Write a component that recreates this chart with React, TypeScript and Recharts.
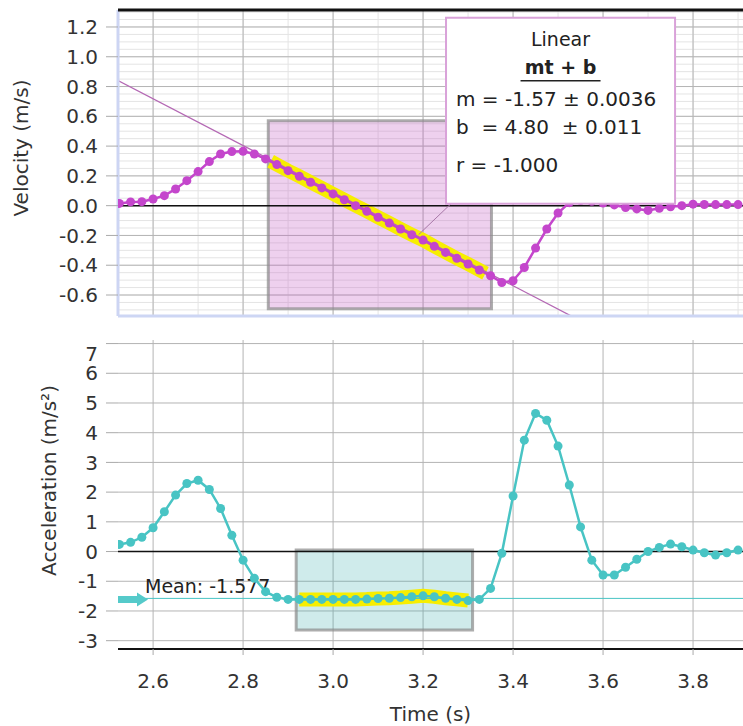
import React from 'react';
import { ComposedChart, Line, XAxis, YAxis, CartesianGrid, ReferenceLine, ReferenceArea } from 'recharts';

const time = [
  2.525, 2.55, 2.575, 2.6, 2.625, 2.65, 2.675, 2.7, 2.725, 2.75, 2.775, 2.8, 2.825, 2.85,
  2.875, 2.9, 2.925, 2.95, 2.975, 3.0, 3.025, 3.05, 3.075, 3.1, 3.125, 3.15, 3.175, 3.2,
  3.225, 3.25, 3.275, 3.3, 3.325, 3.35, 3.375, 3.4, 3.425, 3.45, 3.475, 3.5, 3.525, 3.55,
  3.575, 3.6, 3.625, 3.65, 3.675, 3.7, 3.725, 3.75, 3.775, 3.8, 3.825, 3.85, 3.875, 3.9,
];

const velocity = [
  0.015, 0.025, 0.027, 0.045, 0.067, 0.112, 0.168, 0.229, 0.296, 0.347, 0.363, 0.365, 0.347, 0.314,
  0.276, 0.235, 0.197, 0.157, 0.119, 0.079, 0.04, 0.0, -0.038, -0.078, -0.117, -0.157, -0.195, -0.231,
  -0.273, -0.314, -0.354, -0.392, -0.432, -0.471, -0.516, -0.504, -0.415, -0.285, -0.157, -0.049, 0.02, 0.035,
  0.03, 0.018, 0.005, -0.012, -0.022, -0.032, -0.018, -0.008, 0.0, 0.01, 0.008, 0.007, 0.007, 0.007,
];

const acceleration = [
  0.24, 0.31, 0.48, 0.8, 1.34, 1.9, 2.29, 2.4, 2.09, 1.45, 0.55, -0.29, -0.9, -1.35,
  -1.54, -1.61, -1.61, -1.61, -1.61, -1.61, -1.61, -1.61, -1.6, -1.58, -1.57, -1.55, -1.52, -1.49,
  -1.52, -1.57, -1.61, -1.65, -1.61, -1.24, -0.06, 1.87, 3.75, 4.65, 4.42, 3.55, 2.24, 0.83,
  -0.29, -0.79, -0.79, -0.53, -0.26, 0.0, 0.14, 0.25, 0.16, 0.05, -0.04, -0.12, -0.04, 0.05,
];

const xTicks = [2.6, 2.8, 3.0, 3.2, 3.4, 3.6, 3.8];
const velTicks = [-0.6, -0.4, -0.2, 0, 0.2, 0.4, 0.6, 0.8, 1.0, 1.2];
const accTicks = [-3, -2, -1, 0, 1, 2, 3, 4, 5, 6, 7];

const fitM = -1.57;
const fitB = 4.8;
const fitTitle = 'Linear';
const fitFormula = 'mt + b';
const fitStats = ['m = -1.57 \u00b1 0.0036', 'b  = 4.80  \u00b1 0.011', 'r = -1.000'];
const velSelection = [2.856, 3.352];
const velSelectionY = [-0.692, 0.571];
const accSelection = [2.918, 3.31];
const accSelectionY = [-2.64, 0.05];
const meanAcc = -1.577;
const meanLabel = 'Mean: -1.577';

const X_MIN = 2.522;
const X_MAX = 3.911;
const V_MIN = -0.741;
const V_MAX = 1.314;
const A_MIN = -3.28;
const A_MAX = 7.12;

const MAGENTA = '#c446cc';
const TEAL = '#48c4c4';
const YELLOW = '#f7ee00';
const FONT = 'DejaVu Sans, Verdana, sans-serif';

const rows = time.map((t, i) => ({ t, v: velocity[i], a: acceleration[i] }));
const velFitRows = rows.filter((r) => r.t >= 2.87 && r.t <= 3.33);
const accFitRows = rows.filter((r) => r.t >= 2.92 && r.t <= 3.305);
const fitLine = [X_MIN, 3.56].map((t) => ({ t, fit: fitM * t + fitB }));

const range = (a: number, b: number, step: number) => {
  const out: number[] = [];
  const n = Math.round((b - a) / step);
  for (let i = 0; i <= n; i++) out.push(Math.round((a + i * step) * 1000) / 1000);
  return out;
};
const minorX = range(2.55, 3.9, 0.05);
const minorY = range(-0.7, 1.3, 0.05);

const VelLabel = (props: any) => {
  const vb = props.viewBox || { x: 0, y: 10, width: 118, height: 306 };
  const cx = vb.x + 28;
  const cy = vb.y + vb.height / 2 - 15;
  return (
    <text x={cx} y={cy} transform={`rotate(-90 ${cx} ${cy})`} textAnchor="middle" fontSize={20} fill="#333" fontFamily={FONT}>
      Velocity (m/s)
    </text>
  );
};

const AccLabel = (props: any) => {
  const vb = props.viewBox || { x: 0, y: 10, width: 118, height: 309 };
  const cx = vb.x + 56;
  const cy = vb.y + vb.height / 2 - 14;
  return (
    <text x={cx} y={cy} transform={`rotate(-90 ${cx} ${cy})`} textAnchor="middle" fontSize={20} fill="#333" fontFamily={FONT}>
      Acceleration (m/s²)
    </text>
  );
};

const AccTick = (props: any) => {
  const { x, y, payload } = props;
  const dy = payload.value === 7 ? 10 : 0;
  return (
    <text x={x} y={y + dy} dy="0.355em" textAnchor="end" fill="#333" fontSize={20} fontFamily={FONT}>
      {payload.value}
    </text>
  );
};

const AnnotationShape = (props: any) => {
  const { x, y, width, height } = props;
  const cx = x + width / 2;
  return (
    <g>
      <rect x={x} y={y} width={width} height={height} fill="#ffffff" stroke="#d9a2d9" strokeWidth={2} />
      <text x={cx} y={y + 28} textAnchor="middle" fontSize={19} fill="#222" fontFamily={FONT}>{fitTitle}</text>
      <text x={cx} y={y + 56} textAnchor="middle" fontSize={19} fontWeight="bold" fill="#222" fontFamily={FONT}>{fitFormula}</text>
      <line x1={cx - 40} x2={cx + 40} y1={y + 63} y2={y + 63} stroke="#222" strokeWidth={1.5} />
      {fitStats.map((s, i) => (
        <text key={i} x={x + 10} y={y + 88 + i * 28 + (i === 2 ? 10 : 0)} fontSize={20} fill="#222" fontFamily={FONT} style={{ whiteSpace: 'pre' }}>
          {s}
        </text>
      ))}
    </g>
  );
};

const MeanLabel = (props: any) => {
  const vb = props.viewBox || { x: 118, y: 598 };
  const x = vb.x;
  const y = vb.y + 1;
  return (
    <g>
      <path
        d={`M${x} ${y - 3.5} L${x + 19} ${y - 3.5} L${x + 19} ${y - 7} L${x + 30} ${y} L${x + 19} ${y + 7} L${x + 19} ${y + 3.5} L${x} ${y + 3.5} Z`}
        fill="#55caca"
      />
      <text x={x + 27} y={y - 6} fontSize={19} fill="#222" fontFamily={FONT}>{meanLabel}</text>
    </g>
  );
};

const tickStyle = { fill: '#333', fontSize: 20, fontFamily: FONT };

export default function App() {
  return (
    <div style={{ position: 'absolute', left: 0, top: 0, width: 743, height: 726, overflow: 'hidden', background: '#fff', fontFamily: FONT }}>
      <ComposedChart width={743} height={330} data={rows} margin={{ top: 10, right: 0, bottom: 14, left: 0 }}>
        <CartesianGrid stroke="#e4e4e4" strokeWidth={1} horizontalValues={minorY} verticalValues={minorX} />
        <CartesianGrid stroke="#b4b4b4" strokeWidth={1} horizontalValues={velTicks} verticalValues={xTicks} />
        <XAxis type="number" dataKey="t" domain={[X_MIN, X_MAX]} ticks={xTicks} hide allowDataOverflow />
        <YAxis
          type="number"
          domain={[V_MIN, V_MAX]}
          ticks={velTicks}
          width={118}
          allowDataOverflow
          interval={0}
          tickFormatter={(v: number) => v.toFixed(1)}
          tick={tickStyle}
          tickSize={12}
          tickMargin={8}
          tickLine={{ stroke: '#aaa' }}
          axisLine={{ stroke: '#cdd5f3', strokeWidth: 3 }}
          label={<VelLabel />}
        />
        <ReferenceArea
          x1={velSelection[0]}
          x2={velSelection[1]}
          y1={velSelectionY[0]}
          y2={velSelectionY[1]}
          fill="#c864c8"
          fillOpacity={0.3}
          stroke="#8a8a8a"
          strokeOpacity={0.7}
          strokeWidth={3}
          zIndex={-50}
        />
        <ReferenceLine y={0} stroke="#111" strokeWidth={1.5} />
        <ReferenceLine y={V_MIN} stroke="#cdd6f4" strokeWidth={3} />
        <Line data={velFitRows} dataKey="v" stroke={YELLOW} strokeWidth={14} strokeLinecap="square" dot={false} activeDot={false} isAnimationActive={false} zIndex={390} />
        <Line data={fitLine} dataKey="fit" stroke="#b468b4" strokeWidth={1.3} dot={false} activeDot={false} isAnimationActive={false} zIndex={395} />
        <Line dataKey="v" stroke={MAGENTA} strokeWidth={2.5} dot={{ r: 4.5, fill: MAGENTA, stroke: MAGENTA, strokeWidth: 0 }} activeDot={false} isAnimationActive={false} zIndex={400} />
        <ReferenceLine segment={[{ x: 3.19, y: -0.195 }, { x: 3.262, y: 0.013 }]} stroke="#a878a8" strokeWidth={1} />
        <ReferenceArea x1={3.251} x2={3.76} y1={0.013} y2={1.262} shape={<AnnotationShape />} zIndex={1500} />
        <ReferenceLine y={V_MAX} stroke="#111" strokeWidth={3} zIndex={1600} />
      </ComposedChart>
      <ComposedChart width={743} height={396} data={rows} margin={{ top: 10, right: 0, bottom: 5, left: 0 }}>
        <CartesianGrid stroke="#b4b4b4" strokeWidth={1} horizontalValues={accTicks} verticalValues={xTicks} />
        <XAxis
          type="number"
          dataKey="t"
          domain={[X_MIN, X_MAX]}
          ticks={xTicks}
          allowDataOverflow
          interval={0}
          height={72}
          tickFormatter={(v: number) => v.toFixed(1)}
          tick={tickStyle}
          tickSize={6}
          tickMargin={19}
          tickLine={{ stroke: '#aaa' }}
          axisLine={{ stroke: '#111', strokeWidth: 2 }}
          label={{ value: 'Time (s)', position: 'insideBottom', offset: 0, fill: '#333', fontSize: 20, fontFamily: FONT }}
        />
        <YAxis
          type="number"
          domain={[A_MIN, A_MAX]}
          ticks={accTicks}
          width={118}
          allowDataOverflow
          interval={0}
          tick={<AccTick />}
          tickSize={12}
          tickMargin={8}
          tickLine={{ stroke: '#aaa' }}
          axisLine={false}
          label={<AccLabel />}
        />
        <ReferenceArea
          x1={accSelection[0]}
          x2={accSelection[1]}
          y1={accSelectionY[0]}
          y2={accSelectionY[1]}
          fill="#40b0b0"
          fillOpacity={0.25}
          stroke="#8a8a8a"
          strokeOpacity={0.7}
          strokeWidth={3}
          zIndex={-50}
        />
        <ReferenceLine y={0} stroke="#111" strokeWidth={1.5} />
        <ReferenceLine y={meanAcc} stroke={TEAL} strokeWidth={1} label={<MeanLabel />} />
        <Line data={accFitRows} dataKey="a" stroke={YELLOW} strokeWidth={14} dot={false} activeDot={false} isAnimationActive={false} zIndex={390} />
        <Line dataKey="a" stroke={TEAL} strokeWidth={2.5} dot={{ r: 4.5, fill: TEAL, stroke: TEAL, strokeWidth: 0 }} activeDot={false} isAnimationActive={false} zIndex={400} />
      </ComposedChart>
    </div>
  );
}
